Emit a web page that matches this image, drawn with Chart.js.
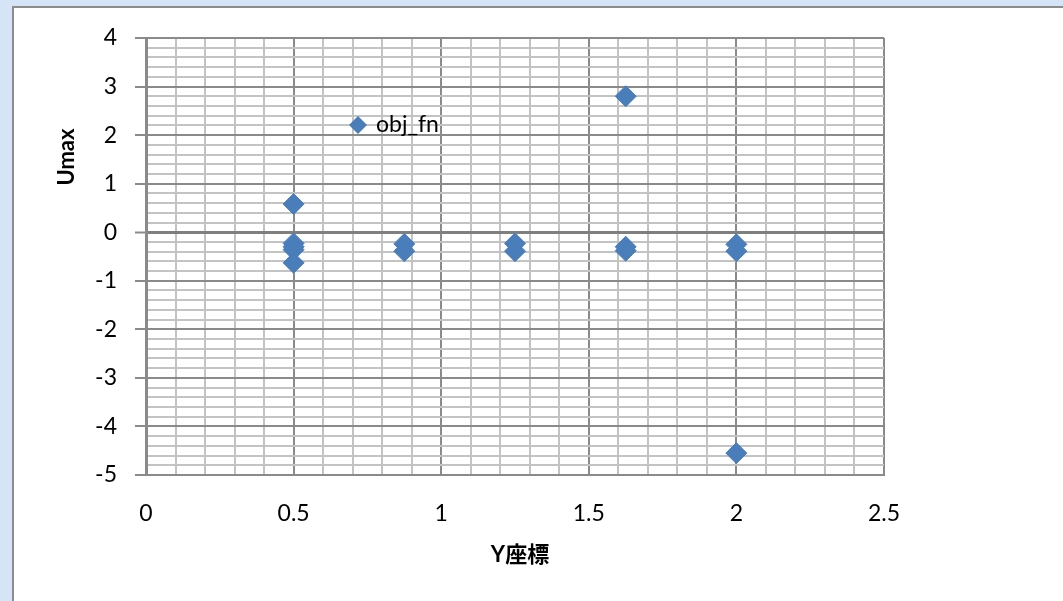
<!DOCTYPE html>
<html>
<head>
<meta charset="utf-8">
<script src="https://cdn.jsdelivr.net/npm/chart.js@4/dist/chart.umd.min.js"></script>
<style>
  html, body { margin: 0; padding: 0; background: #d5e5f7; }
  #wrap { width: 1063px; height: 601px; position: relative; }
</style>
</head>
<body>
<div id="wrap"><canvas id="c" width="1063" height="601"></canvas></div>
<script>
// Sample points: Y coordinate vs. Umax
const yCoord = [0.5, 0.5, 0.5, 0.5, 0.5, 0.875, 0.875, 1.25, 1.25, 1.625, 1.625, 1.625, 2, 2, 2];
const umax   = [0.58, -0.23, -0.30, -0.36, -0.63, -0.24, -0.39, -0.23, -0.39, 2.80, -0.30, -0.38, -0.25, -0.39, -4.55];

const seriesName = 'obj_fn';
const xTitle = 'Y座標';
const yTitle = 'Umax';
const xMajorTicks = [0, 0.5, 1, 1.5, 2, 2.5];
const yMajorTicks = [-5, -4, -3, -2, -1, 0, 1, 2, 3, 4];

const FONT = 'Lato, "Noto Sans CJK JP", sans-serif';
const MARK = '#4a7ebb';
const MAJOR = '#8a8a8a';
const MINOR = '#c3c3c3';

const isMajor = (v, list) => list.some(m => Math.abs(m - v) < 1e-6);

const frame = {
  id: 'frame',
  beforeDraw(chart) {
    const ctx = chart.ctx;
    ctx.save();
    ctx.fillStyle = '#d5e5f7';
    ctx.fillRect(0, 0, chart.width, chart.height);
    ctx.fillStyle = '#ffffff';
    ctx.fillRect(12, 6, chart.width, chart.height);
    ctx.strokeStyle = '#8c8c8c';
    ctx.lineWidth = 2;
    ctx.beginPath();
    ctx.moveTo(13, chart.height + 2);
    ctx.lineTo(13, 7);
    ctx.lineTo(chart.width + 2, 7);
    ctx.stroke();
    ctx.restore();
  },
  afterDraw(chart) {
    const ctx = chart.ctx;
    ctx.save();
    // axis titles
    ctx.fillStyle = '#000';
    ctx.font = 'bold 22px ' + FONT;
    ctx.textAlign = 'center';
    ctx.textBaseline = 'middle';
    ctx.fillText(xTitle, 520, 555);
    ctx.translate(67, 157);
    ctx.rotate(-Math.PI / 2);
    ctx.fillText(yTitle, 0, 0);
    ctx.restore();

    // legend
    ctx.save();
    const lx = 358, ly = 125, r = 9;
    ctx.fillStyle = MARK;
    ctx.beginPath();
    ctx.moveTo(lx - r, ly);
    ctx.lineTo(lx, ly - r);
    ctx.lineTo(lx + r, ly);
    ctx.lineTo(lx, ly + r);
    ctx.closePath();
    ctx.fill();
    ctx.fillStyle = '#000';
    ctx.font = '23px ' + FONT;
    ctx.textAlign = 'left';
    ctx.textBaseline = 'middle';
    ctx.fillText(seriesName, 376, ly);
    ctx.restore();
  }
};

new Chart(document.getElementById('c'), {
  type: 'scatter',
  data: {
    datasets: [{
      label: seriesName,
      data: yCoord.map((x, i) => ({ x: x, y: umax[i] })),
      pointStyle: 'rectRot',
      pointRadius: 10.5,
      pointHoverRadius: 10.5,
      backgroundColor: MARK,
      borderColor: MARK,
      borderWidth: 1
    }]
  },
  plugins: [frame],
  options: {
    responsive: false,
    animation: false,
    layout: { padding: { left: 0, top: 38, right: 179, bottom: 0 } },
    plugins: {
      legend: { display: false },
      tooltip: { enabled: false }
    },
    scales: {
      x: {
        type: 'linear',
        position: 'bottom',
        min: 0,
        max: 2.5,
        afterFit(s) { s.height = 126; },
        border: { display: true, color: MAJOR, width: 2 },
        grid: {
          color: c => isMajor(c.tick.value, xMajorTicks) ? MAJOR : MINOR,
          lineWidth: 2,
          tickLength: 11,
          tickColor: 'rgba(0,0,0,0)'
        },
        ticks: {
          stepSize: 0.1,
          autoSkip: false,
          maxRotation: 0,
          padding: 14,
          color: '#000',
          font: { family: FONT, size: 23 },
          callback: v => isMajor(v, xMajorTicks) ? String(Math.round(v * 10) / 10) : ''
        }
      },
      y: {
        type: 'linear',
        min: -5,
        max: 4,
        afterFit(s) { s.width = 146; },
        border: { display: true, color: MAJOR, width: 3 },
        grid: {
          color: c => {
            const v = c.tick.value;
            if (Math.abs(v) < 1e-6) return '#7f7f7f';
            return isMajor(v, yMajorTicks) ? MAJOR : MINOR;
          },
          lineWidth: c => Math.abs(c.tick.value) < 1e-6 ? 3 : 2,
          tickLength: 11,
          tickColor: c => isMajor(c.tick.value, yMajorTicks) ? MAJOR : 'rgba(0,0,0,0)',
          tickWidth: 2
        },
        ticks: {
          stepSize: 0.2,
          autoSkip: false,
          padding: 18,
          color: '#000',
          font: { family: FONT, size: 23 },
          callback: v => isMajor(v, yMajorTicks) ? String(Math.round(v)) : ''
        }
      }
    }
  }
});
</script>
</body>
</html>
